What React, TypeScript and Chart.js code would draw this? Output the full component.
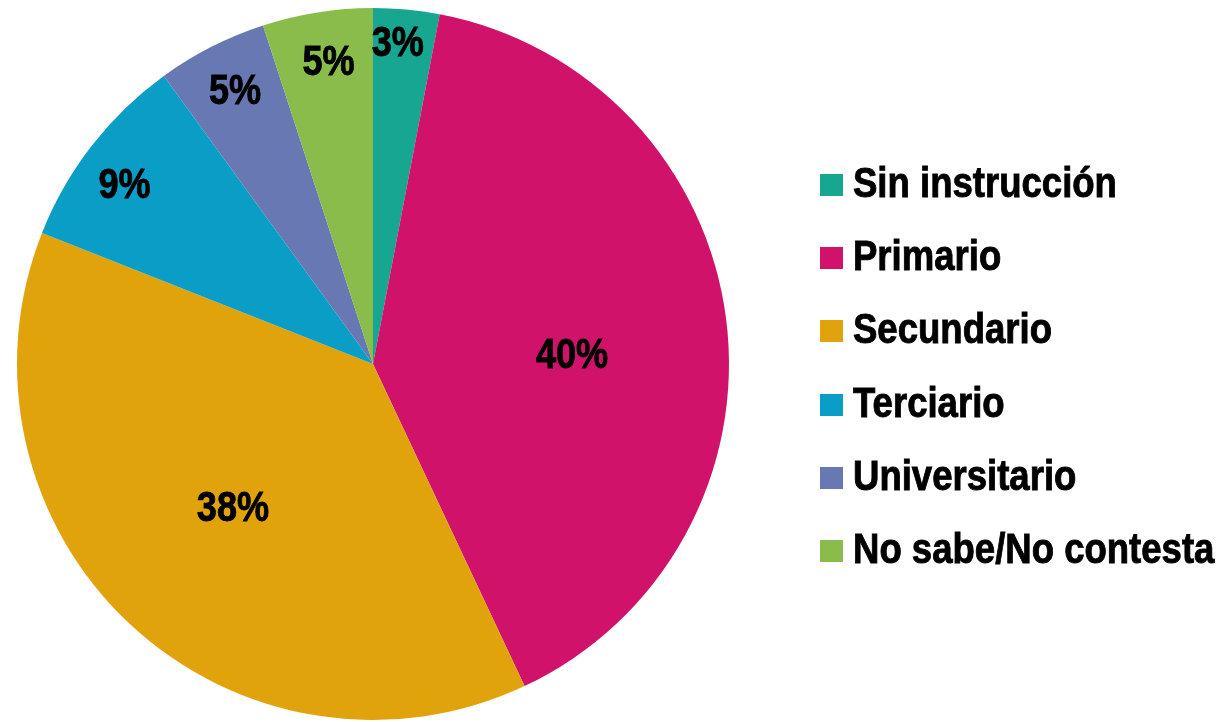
import React, { useEffect, useRef } from "react";
import { Chart, registerables } from "chart.js";

Chart.register(...registerables);

const categories = [
  "Sin instrucción",
  "Primario",
  "Secundario",
  "Terciario",
  "Universitario",
  "No sabe/No contesta",
];
const percentages = [3, 40, 38, 9, 5, 5];
const sliceColors = ["#17A68F", "#D0126A", "#E0A30B", "#0A9DC6", "#6878B3", "#89BC4A"];

const FONT_FAMILY = '"Liberation Sans", Arial, sans-serif';
// horizontal squeeze to imitate a narrow bold face
const LEGEND_NARROW = 0.87;
const LABEL_NARROW = 0.84;

// label placement tuning (style only): angle nudge in degrees per slice
const labelAngleNudge = [-1, 4, 1.4, -1.6, 0.4, 0.7];

function drawNarrowText(
  ctx: CanvasRenderingContext2D,
  text: string,
  x: number,
  y: number,
  sx: number,
  align: "left" | "center"
) {
  ctx.save();
  ctx.translate(x, y);
  ctx.scale(sx, 1);
  ctx.textAlign = align;
  ctx.lineWidth = 0.9;
  ctx.strokeStyle = "#000";
  ctx.fillText(text, 0, 0);
  ctx.strokeText(text, 0, 0);
  ctx.restore();
}

const labelPlugin = {
  id: "sliceLabels",
  afterDatasetsDraw(chart: any) {
    const ctx = chart.ctx as CanvasRenderingContext2D;
    const meta = chart.getDatasetMeta(0);
    ctx.save();
    ctx.font = `bold 43px ${FONT_FAMILY}`;
    ctx.fillStyle = "#000";
    ctx.textBaseline = "alphabetic";
    meta.data.forEach((arc: any, i: number) => {
      const { startAngle, endAngle, outerRadius, x, y } = arc.getProps(
        ["startAngle", "endAngle", "outerRadius", "x", "y"],
        true
      );
      const mid = (startAngle + endAngle) / 2 + (labelAngleNudge[i] * Math.PI) / 180;
      const v = percentages[i];
      const frac = v >= 20 ? 0.56 : v < 4 ? 0.91 : 0.865;
      const r = outerRadius * frac;
      const cx = x + Math.cos(mid) * r;
      const cy = y + Math.sin(mid) * r;
      drawNarrowText(ctx, `${v}%`, cx, cy + 15.5, LABEL_NARROW, "center");
    });
    ctx.restore();
  },
};

const legendPlugin = {
  id: "sideLegend",
  afterDraw(chart: any) {
    const ctx = chart.ctx as CanvasRenderingContext2D;
    const labels = chart.data.labels as string[];
    const colors = chart.data.datasets[0].backgroundColor as string[];
    const boxX = 820;
    const firstBaseline = 197;
    const step = 73.2;
    ctx.save();
    ctx.font = `bold 42px ${FONT_FAMILY}`;
    ctx.textBaseline = "alphabetic";
    labels.forEach((lab, i) => {
      const base = Math.round(firstBaseline + i * step);
      ctx.fillStyle = colors[i];
      ctx.fillRect(boxX, base - 23, 23, 22);
      ctx.fillStyle = "#000";
      drawNarrowText(ctx, lab, 853, base, LEGEND_NARROW, "left");
    });
    ctx.restore();
  },
};

export default function App() {
  const ref = useRef<HTMLCanvasElement | null>(null);
  useEffect(() => {
    document.body.style.margin = "0";
    if (!ref.current) return;
    const chart = new Chart(ref.current, {
      type: "pie",
      data: {
        labels: categories,
        datasets: [
          {
            data: percentages,
            backgroundColor: sliceColors,
            borderWidth: 0,
          },
        ],
      },
      options: {
        animation: false,
        responsive: false,
        maintainAspectRatio: false,
        devicePixelRatio: 1,
        layout: { padding: { left: 17, top: 8, bottom: 2, right: 491 } },
        plugins: {
          legend: { display: false },
          tooltip: { enabled: false },
        },
      },
      plugins: [labelPlugin, legendPlugin],
    });
    return () => chart.destroy();
  }, []);
  return (
    <div style={{ position: "absolute", left: 0, top: 0, width: 1220, height: 722, background: "#fff" }}>
      <canvas ref={ref} width={1220} height={722} style={{ width: 1220, height: 722 }} />
    </div>
  );
}
